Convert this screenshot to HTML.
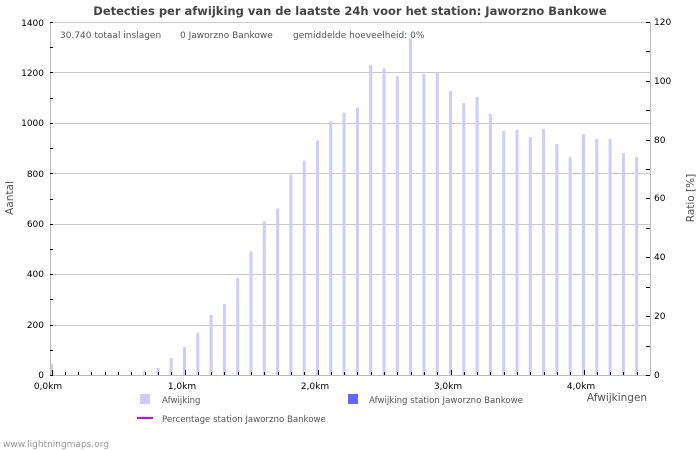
<!DOCTYPE html>
<html><head><meta charset="utf-8"><style>
body{margin:0;background:#fff}
svg{display:block;font-family:"DejaVu Sans","Liberation Sans",sans-serif}
</style></head><body>
<svg id="s" width="700" height="450" xmlns="http://www.w3.org/2000/svg">
<rect width="700" height="450" fill="#fff"/>
<text x="350" y="15" text-anchor="middle" font-size="11.5" font-weight="bold" fill="#444">Detecties per afwijking van de laatste 24h voor het station: Jaworzno Bankowe</text>
<g id="grid" stroke="#c8c8c8" stroke-width="1"></g>
<g id="bars" fill="#ccccff"></g>
<line x1="50.5" y1="22" x2="50.5" y2="375" stroke="#bbb"/>
<line x1="650.5" y1="22" x2="650.5" y2="375" stroke="#bbb"/>
<line x1="50" y1="375.5" x2="651" y2="375.5" stroke="#bbb"/>
<line x1="50" y1="22.5" x2="651" y2="22.5" stroke="#ccc"/>
<g id="ticks" stroke="#000"></g>
<g font-size="9" fill="#000" text-anchor="end">
<text x="44" y="378">0</text><text x="44" y="328">200</text><text x="44" y="277">400</text><text x="44" y="227">600</text><text x="44" y="177">800</text><text x="44" y="126">1000</text><text x="44" y="76">1200</text><text x="44" y="26">1400</text>
</g>
<g font-size="9" fill="#000">
<text x="654" y="378">0</text><text x="654" y="319">20</text><text x="654" y="260">40</text><text x="654" y="201">60</text><text x="654" y="143">80</text><text x="654" y="84">100</text><text x="654" y="25">120</text>
</g>
<g font-size="9" fill="#000" text-anchor="middle">
<text x="48" y="389">0,0km</text><text x="182" y="389">1,0km</text><text x="315" y="389">2,0km</text><text x="448" y="389">3,0km</text><text x="581" y="389">4,0km</text>
</g>
<text x="617" y="401" font-size="10.5" fill="#555" text-anchor="middle">Afwijkingen</text>
<text transform="translate(13,198) rotate(-90)" font-size="10.5" fill="#555" text-anchor="middle">Aantal</text>
<text transform="translate(694,198) rotate(-90)" font-size="10.5" fill="#555" text-anchor="middle">Ratio [%]</text>
<g font-size="9" fill="#555">
<text x="60" y="38">30.740 totaal inslagen</text>
<text x="180" y="38">0 Jaworzno Bankowe</text>
<text x="293" y="38">gemiddelde hoeveelheid: 0%</text>
</g>
<rect x="140" y="394" width="10" height="10" fill="#ccccff"/>
<text x="162" y="403" font-size="8.6" fill="#555">Afwijking</text>
<rect x="348" y="394" width="10" height="10" fill="#6666ff"/>
<text x="369" y="403" font-size="8.6" fill="#555">Afwijking station Jaworzno Bankowe</text>
<line x1="137" y1="418" x2="153" y2="418" stroke="#cc00ff" stroke-width="2"/>
<text x="162" y="422" font-size="8.6" fill="#555">Percentage station Jaworzno Bankowe</text>
<text x="3" y="447" font-size="9" fill="#999">www.lightningmaps.org</text>
</svg>
<script>
var ns="http://www.w3.org/2000/svg";
function el(p,t,a){var e=document.createElementNS(ns,t);for(var k in a)e.setAttribute(k,a[k]);document.getElementById(p).appendChild(e);}
for(var k=1;k<7;k++){var y=Math.round(375-k*50.43)+0.5;el("grid","line",{x1:50,x2:650,y1:y,y2:y});}
var v=[45,0,3,0,3,5,0,15,28,67,111,167,238,282,385,490,610,660,795,850,930,1005,1040,1060,1230,1215,1185,1335,1194,1200,1126,1079,1103,1035,968,972,944,976,916,865,956,936,936,880,865];
var s=353/1400;
for(var i=0;i<v.length;i++){var x=51.5+13.3*i;
 if(v[i]>0){var h=v[i]*s;el("bars","rect",{x:(x-1.5).toFixed(1),y:(375-h).toFixed(1),width:3,height:h.toFixed(1)});}
 var tl=(i%10==0)?5:3;el("ticks","line",{x1:Math.round(x)+0.5,x2:Math.round(x)+0.5,y1:375-tl,y2:375});}
for(var k=0;k<=12;k++){var y=Math.round(375-k*29.42)+0.5;el("ticks","line",{x1:646,x2:650,y1:y,y2:y});}
for(var k=0;k<=14;k++){var y=Math.round(375-k*25.21)+0.5;el("ticks","line",{x1:50,x2:53,y1:y,y2:y});}
</script>
</body></html>
